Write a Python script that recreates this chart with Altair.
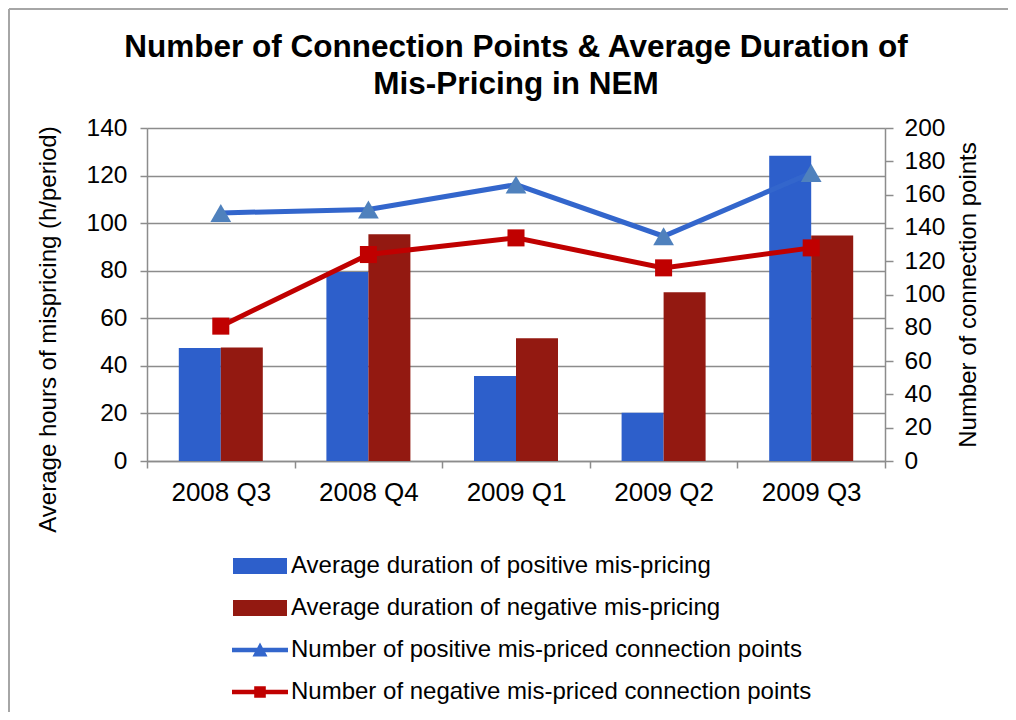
import altair as alt
import pandas as pd

quarters = ["2008 Q3", "2008 Q4", "2009 Q1", "2009 Q2", "2009 Q3"]
pos_duration = [47.5, 79.5, 35.7, 20.3, 128.3]
neg_duration = [47.7, 95.3, 51.6, 70.9, 94.8]
pos_points = [149, 151, 166, 135, 173]
neg_points = [81, 124, 134, 116, 128]

series_names = [
    "Average duration of positive mis-pricing",
    "Average duration of negative mis-pricing",
    "Number of positive mis-priced connection points",
    "Number of negative mis-priced connection points",
]
series_colors = ["#2D5FCB", "#931911", "#3366CC", "#C00000"]
title_lines = ["Number of Connection Points & Average Duration of", "Mis-Pricing in NEM"]
left_title = "Average hours of mispricing (h/period)"
right_title = "Number of connection points"
left_ticks = [0, 20, 40, 60, 80, 100, 120, 140]
right_ticks = [0, 20, 40, 60, 80, 100, 120, 140, 160, 180, 200]

FONT = "Liberation Sans"
GRAY = "#8C8C8C"

bars_df = pd.DataFrame(
    [{"quarter": q, "series": series_names[0], "value": v} for q, v in zip(quarters, pos_duration)]
    + [{"quarter": q, "series": series_names[1], "value": v} for q, v in zip(quarters, neg_duration)]
)
lines_df = pd.DataFrame(
    [{"quarter": q, "series": series_names[2], "value": v} for q, v in zip(quarters, pos_points)]
    + [{"quarter": q, "series": series_names[3], "value": v} for q, v in zip(quarters, neg_points)]
)
dummy = pd.DataFrame({"k": [0]})

legend_paths = [
    "M-2.7,-0.8 H2.7 V0.8 H-2.7 Z",
    "M-2.7,-0.8 H2.7 V0.8 H-2.7 Z",
    "M-2.8,-0.22 H2.8 V0.22 H-2.8 Z M-0.75,0.65 L0,-0.75 L0.75,0.65 Z",
    "M-2.8,-0.22 H2.8 V0.22 H-2.8 Z M-0.58,-0.58 H0.58 V0.58 H-0.58 Z",
]

x_scale = alt.Scale(paddingInner=0, paddingOuter=0)
x_axis = alt.Axis(
    tickBand="extent", labelFontSize=26, labelColor="black", labelFont=FONT,
    labelPadding=11, tickSize=7, tickColor=GRAY, tickWidth=1.5,
    domainColor=GRAY, domainWidth=1.5, labelAngle=0, grid=False, title=None,
)


def xenc():
    return alt.X("quarter:N", sort=quarters, title=None, scale=x_scale, axis=x_axis)


y_left = alt.Y(
    "value:Q",
    scale=alt.Scale(domain=[0, 140], nice=False),
    axis=alt.Axis(
        orient="left", values=left_ticks, title=left_title, titleFontSize=24,
        titleFontWeight="normal", titleFont=FONT, titleColor="black",
        titleAngle=270, titleX=-92, titleY=201, titleAlign="center", titleBaseline="alphabetic",
        labelFontSize=24.5, labelFont=FONT, labelColor="black", labelPadding=13,
        tickSize=7, tickColor=GRAY, tickWidth=1.5, domainColor=GRAY, domainWidth=1.5,
        grid=True, gridColor=GRAY, gridWidth=1.5,
    ),
)
y_right_scale = alt.Scale(domain=[0, 200], nice=False)
y_right = alt.Y(
    "value:Q",
    scale=y_right_scale,
    axis=alt.Axis(
        orient="right", values=right_ticks, title=right_title, titleFontSize=24,
        titleFontWeight="normal", titleFont=FONT, titleColor="black",
        titleAngle=270, titleX=90, titleY=166.5, titleAlign="center", titleBaseline="alphabetic",
        labelFontSize=24.5, labelFont=FONT, labelColor="black", labelPadding=11,
        tickSize=8, tickColor=GRAY, tickWidth=1.5, domainColor=GRAY, domainWidth=1.5,
        grid=False,
    ),
)
y_hidden = alt.Y("value:Q", scale=y_right_scale, axis=None)

bars = alt.Chart(bars_df).mark_bar().encode(
    x=xenc(),
    xOffset=alt.XOffset("series:N", sort=series_names[:2],
                        scale=alt.Scale(paddingInner=0, paddingOuter=0.757)),
    y=y_left,
    color=alt.Color("series:N", scale=alt.Scale(domain=series_names[:2], range=series_colors[:2]),
                    legend=None),
)

lines = alt.Chart(lines_df).mark_line(strokeWidth=5).encode(
    x=xenc(),
    y=y_right,
    color=alt.Color("series:N", scale=alt.Scale(domain=series_names[2:], range=series_colors[2:]),
                    legend=None),
)

tri = alt.Chart(lines_df).transform_filter(
    alt.datum.series == series_names[2]
).mark_point(shape="triangle-up", filled=True, size=430, opacity=1, color="#4F81BD").encode(
    x=xenc(), y=y_hidden,
)
sq = alt.Chart(lines_df).transform_filter(
    alt.datum.series == series_names[3]
).mark_point(shape="square", filled=True, size=290, opacity=1, color="#C00000").encode(
    x=xenc(), y=y_hidden,
)

legend_def = alt.Legend(
    orient="none", legendX=101, legendY=426, title=None, direction="vertical",
    labelFontSize=24, labelFont=FONT, labelColor="black", labelOffset=19,
    symbolSize=400, symbolOpacity=1, symbolStrokeWidth=0, rowPadding=18, padding=0,
    labelLimit=800,
)
legend_layer = alt.Chart(lines_df).mark_point(filled=True, opacity=0).encode(
    x=xenc(), y=y_hidden,
    color=alt.Color("series:N", scale=alt.Scale(domain=series_names, range=series_colors),
                    legend=legend_def),
    shape=alt.Shape("series:N", scale=alt.Scale(domain=series_names, range=legend_paths),
                    legend=legend_def),
)

border_left = alt.Chart(dummy).mark_rule(color="#A6A6A6", strokeWidth=2).encode(
    x=alt.value(-138), y=alt.value(-119), y2=alt.value(900)
)
border_top = alt.Chart(dummy).mark_rule(color="#A6A6A6", strokeWidth=2).encode(
    x=alt.value(-138), x2=alt.value(1200), y=alt.value(-119)
)

title = alt.Chart(dummy).mark_text(
    text=title_lines, font=FONT, fontSize=31.5, fontWeight="bold", color="black",
    align="center", baseline="alphabetic", lineHeight=37,
).encode(x=alt.value(369), y=alt.value(-71))

chart = alt.layer(
    bars, lines, tri, sq, legend_layer, border_left, border_top, title
).resolve_scale(y="independent", color="independent", shape="independent").properties(
    width=738, height=333,
    autosize=alt.AutoSizeParams(type="none"),
    padding={"left": 139, "top": 120, "right": 123, "bottom": 251},
).configure_view(stroke=None).configure(font=FONT)

chart.save("out.html", embed_options={"renderer": "svg", "actions": False})
